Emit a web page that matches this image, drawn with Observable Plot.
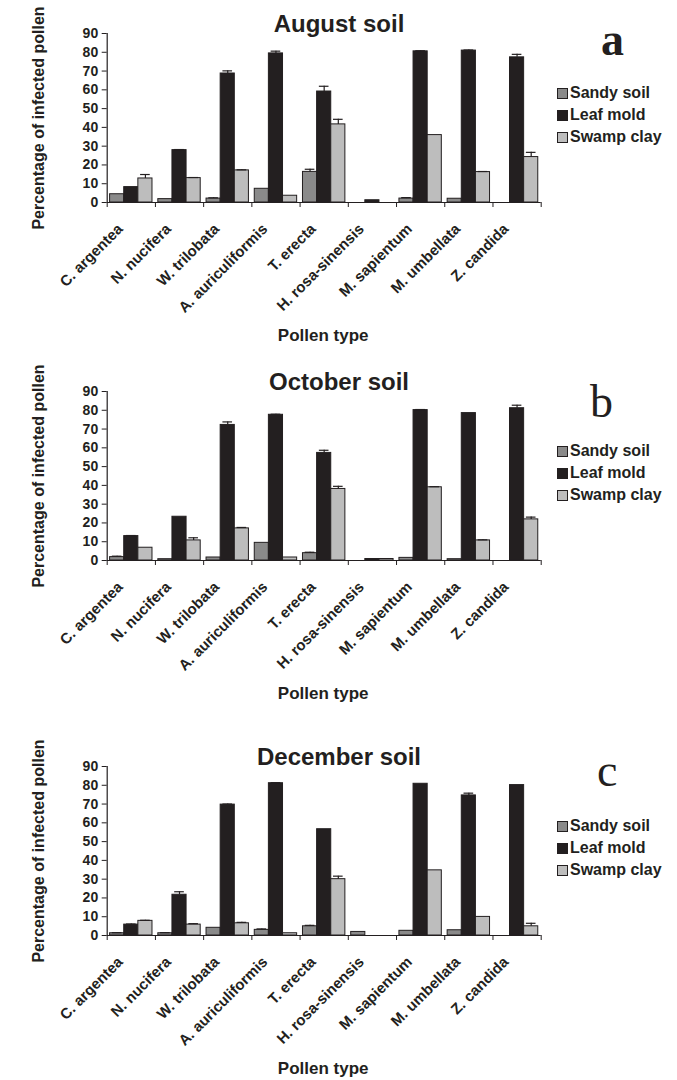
<!DOCTYPE html>
<html><head><meta charset="utf-8">
<script src="https://cdn.jsdelivr.net/npm/d3@7"></script>
<script src="https://cdn.jsdelivr.net/npm/@observablehq/plot@0.6"></script>
<style>
body{margin:0;background:#fff;}
#root{position:relative;width:677px;height:1080px;overflow:hidden;font-family:"Liberation Sans",Arial,sans-serif;color:#231f20;}
.panel{position:absolute;left:0;width:677px;height:347px;}
.panel svg{position:absolute;left:0;top:0;}
.title{position:absolute;font-weight:bold;font-size:24px;line-height:24px;white-space:nowrap;transform:translateX(-50%);}
.letter{position:absolute;font-family:"Liberation Serif","Times New Roman",serif;font-size:46px;line-height:46px;}
.legend{position:absolute;left:557px;top:82px;}
.legend .row{display:flex;align-items:center;height:22px;font-weight:bold;font-size:16px;white-space:nowrap;}
.legend .sw{width:9px;height:9px;border:1px solid #231f20;margin-right:2px;}
</style></head>
<body><div id="root"></div>
<script>
const categories = ["C. argentea","N. nucifera","W. trilobata","A. auriculiformis","T. erecta","H. rosa-sinensis","M. sapientum","M. umbellata","Z. candida"];
const seriesNames = ["Sandy soil","Leaf mold","Swamp clay"];
const seriesColors = ["#8a8a8a","#231f20","#bdbdbd"];
const yTicks = [0,10,20,30,40,50,60,70,80,90];

// August soil
const augSandy = [4.4, 1.8, 2.1, 7.3, 16.3, 0, 2.1, 2.0, 0];
const augLeaf  = [8.2, 27.9, 68.7, 79.4, 59.1, 1.2, 80.5, 80.9, 77.3];
const augSwamp = [12.8, 13.0, 17.1, 3.6, 41.6, 0, 35.9, 16.2, 24.2];
const augSandyErr = [0, 0, 0.4, 0, 1.4, 0, 0.5, 0, 0];
const augLeafErr  = [0, 0.3, 1.4, 1.2, 2.8, 0, 0.3, 0.3, 1.6];
const augSwampErr = [2.1, 0.3, 0.3, 0, 2.7, 0, 0, 0.3, 2.5];

// October soil
const octSandy = [1.8, 0.7, 1.6, 9.4, 3.9, 0, 1.4, 0.7, 0];
const octLeaf  = [13.0, 23.3, 72.2, 77.6, 57.3, 0.8, 80.1, 78.5, 81.1];
const octSwamp = [6.8, 10.7, 17.1, 1.6, 38.1, 0.8, 39.0, 10.7, 21.9];
const octSandyErr = [0.5, 0, 0, 0, 0.5, 0, 0, 0, 0];
const octLeafErr  = [0.3, 0, 1.6, 0.3, 1.4, 0, 0.3, 0, 1.6];
const octSwampErr = [0, 1.4, 0.5, 0, 1.4, 0, 0.3, 0.3, 1.2];

// December soil
const decSandy = [1.2, 1.2, 4.1, 3.0, 4.9, 1.9, 2.5, 2.8, 0];
const decLeaf  = [5.8, 21.7, 69.7, 81.1, 56.6, 0, 80.8, 74.6, 80.1];
const decSwamp = [7.8, 5.8, 6.5, 1.2, 30.0, 0, 34.7, 9.9, 4.9];
const decSandyErr = [0.3, 0.3, 0, 0.5, 0.5, 0, 0, 0, 0];
const decLeafErr  = [0.3, 1.6, 0.3, 0.3, 0, 0, 0, 1.2, 0];
const decSwampErr = [0.3, 0.5, 0.5, 0, 1.6, 0, 0, 0, 1.6];

const panels = [
  {title:"August soil", letter:"a", bold:true, top:0, vals:[augSandy,augLeaf,augSwamp], errs:[augSandyErr,augLeafErr,augSwampErr], letterX:601, letterBase:56},
  {title:"October soil", letter:"b", bold:false, top:358, vals:[octSandy,octLeaf,octSwamp], errs:[octSandyErr,octLeafErr,octSwampErr], letterX:590, letterBase:60},
  {title:"December soil", letter:"c", bold:false, top:733, vals:[decSandy,decLeaf,decSwamp], errs:[decSandyErr,decLeafErr,decSwampErr], letterX:597, letterBase:54}
];

const root = document.getElementById("root");
const OFF = 0.06, BW = 0.293;
const FONT = '"Liberation Sans", Arial, sans-serif';

for (const p of panels) {
  const rows = [];
  categories.forEach((c, i) => {
    seriesNames.forEach((s, k) => {
      rows.push({cat: c, i, k, series: s, value: p.vals[k][i], err: p.errs[k][i]});
    });
  });
  const bars = rows.filter(d => d.value > 0);
  const errRows = rows.filter(d => d.err > 0 && d.value > 0);
  const xc = d => d.i + OFF + (d.k + 0.5) * BW;

  const chart = Plot.plot({
    width: 677, height: 347,
    marginLeft: 106.7, marginRight: 136.3, marginTop: 33, marginBottom: 145,
    style: {fontFamily: FONT, fontWeight: "bold", color: "#231f20", background: "transparent", overflow: "visible"},
    x: {domain: [0, 9], axis: null},
    y: {domain: [0, 90], axis: null},
    color: {domain: seriesNames, range: seriesColors},
    marks: [
      Plot.rectY(bars, {x1: d => d.i + OFF + d.k * BW, x2: d => d.i + OFF + (d.k + 1) * BW, y1: 0, y2: "value", fill: "series", stroke: "#231f20", strokeWidth: 1}),
      Plot.ruleX(errRows, {x: xc, y1: "value", y2: d => d.value + d.err, stroke: "#231f20", strokeWidth: 1.2}),
      Plot.ruleY(errRows, {y: d => d.value + d.err, x1: d => xc(d) - 0.1, x2: d => xc(d) + 0.1, stroke: "#231f20", strokeWidth: 1.2}),
      Plot.ruleX([0], {y1: 0, y2: 90, stroke: "#231f20", strokeWidth: 1.2}),
      Plot.ruleY([0], {stroke: "#231f20", strokeWidth: 1.2}),
      Plot.axisY({ticks: yTicks, tickSize: 5, tickPadding: 4, fontSize: 14, fontWeight: "bold", label: null, stroke: "#231f20"}),
      Plot.axisX({ticks: d3.range(0, 10), tickSize: 5, tickFormat: () => "", label: null, stroke: "#231f20"}),
      Plot.text(categories, {x: (d, i) => i + 0.5, y: 0, text: d => d, rotate: -45, textAnchor: "end", dx: -11, dy: 24, fontSize: 15, fontWeight: "bold", fill: "#231f20"}),
      Plot.text(["Percentage of infected pollen"], {frameAnchor: "left", dx: -63, rotate: -90, lineAnchor: "bottom", textAnchor: "middle", fontSize: 16, fontWeight: "bold", fill: "#231f20"}),
      Plot.text(["Pollen type"], {frameAnchor: "bottom", dy: 138, dx: -1, lineAnchor: "bottom", fontSize: 17, fontWeight: "bold", fill: "#231f20"})
    ]
  });

  const div = document.createElement("div");
  div.className = "panel";
  div.style.top = p.top + "px";
  div.appendChild(chart);

  const t = document.createElement("div");
  t.className = "title";
  t.textContent = p.title;
  t.style.left = "339px";
  t.style.top = (32 - 0.8465 * 24) + "px";
  div.appendChild(t);

  const l = document.createElement("div");
  l.className = "letter";
  l.textContent = p.letter;
  l.style.fontWeight = p.bold ? "bold" : "normal";
  l.style.left = p.letterX + "px";
  l.style.top = (p.letterBase - 0.8375 * 46) + "px";
  div.appendChild(l);

  const lg = document.createElement("div");
  lg.className = "legend";
  seriesNames.forEach((s, k) => {
    const r = document.createElement("div");
    r.className = "row";
    const sw = document.createElement("span");
    sw.className = "sw";
    sw.style.background = seriesColors[k];
    r.appendChild(sw);
    const tx = document.createElement("span");
    tx.textContent = s;
    r.appendChild(tx);
    lg.appendChild(r);
  });
  div.appendChild(lg);

  root.appendChild(div);
}
</script>
</body></html>
